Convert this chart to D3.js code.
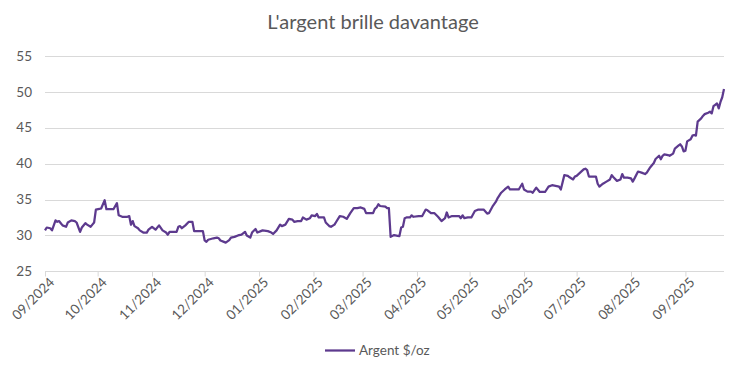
<!DOCTYPE html>
<html>
<head>
<meta charset="utf-8">
<script src="https://cdn.jsdelivr.net/npm/d3@7"></script>
<style>
  html, body { margin: 0; padding: 0; background: #fff; }
  svg { display: block; font-family: Lato, "Open Sans", sans-serif; }
</style>
</head>
<body>
<svg id="chart" width="750" height="375"></svg>
<script>
// ---- data ----
const title = "L'argent brille davantage";
const seriesName = "Argent $/oz";
const dates = [
"2024-09-01","2024-09-02","2024-09-04","2024-09-05","2024-09-07","2024-09-08","2024-09-09","2024-09-10","2024-09-11","2024-09-13",
"2024-09-14","2024-09-16","2024-09-18","2024-09-19","2024-09-21","2024-09-22","2024-09-24","2024-09-25","2024-09-27","2024-09-28",
"2024-09-29","2024-09-30","2024-10-02","2024-10-03","2024-10-05","2024-10-06","2024-10-08","2024-10-10","2024-10-12","2024-10-13",
"2024-10-15","2024-10-18","2024-10-19","2024-10-20","2024-10-21","2024-10-22","2024-10-24","2024-10-25","2024-10-27","2024-10-29",
"2024-10-30","2024-11-01","2024-11-03","2024-11-05","2024-11-07","2024-11-09","2024-11-10","2024-11-11","2024-11-13","2024-11-15",
"2024-11-16","2024-11-17","2024-11-18","2024-11-20","2024-11-22","2024-11-24","2024-11-25","2024-11-27","2024-11-30","2024-12-01",
"2024-12-02","2024-12-03","2024-12-06","2024-12-08","2024-12-09","2024-12-10","2024-12-12","2024-12-13","2024-12-15","2024-12-16",
"2024-12-18","2024-12-20","2024-12-22","2024-12-24","2024-12-25","2024-12-27","2024-12-28","2024-12-30","2024-12-31","2025-01-02",
"2025-01-03","2025-01-06","2025-01-08","2025-01-09","2025-01-11","2025-01-13","2025-01-14","2025-01-16","2025-01-18","2025-01-20",
"2025-01-21","2025-01-23","2025-01-25","2025-01-26","2025-01-28","2025-01-30","2025-01-31","2025-02-02","2025-02-03","2025-02-04",
"2025-02-06","2025-02-07","2025-02-08","2025-02-10","2025-02-11","2025-02-13","2025-02-14","2025-02-16","2025-02-18","2025-02-20",
"2025-02-22","2025-02-24","2025-02-26","2025-02-28","2025-03-02","2025-03-03","2025-03-06","2025-03-07","2025-03-08","2025-03-09",
"2025-03-10","2025-03-11","2025-03-14","2025-03-15","2025-03-16","2025-03-17","2025-03-19","2025-03-21","2025-03-22","2025-03-23",
"2025-03-24","2025-03-25","2025-03-26","2025-03-28","2025-03-29","2025-03-30","2025-04-02","2025-04-04","2025-04-06","2025-04-07",
"2025-04-09","2025-04-11","2025-04-13","2025-04-15","2025-04-17","2025-04-18","2025-04-19","2025-04-21","2025-04-23","2025-04-25",
"2025-04-26","2025-04-27","2025-04-28","2025-04-30","2025-05-02","2025-05-04","2025-05-06","2025-05-09","2025-05-11","2025-05-12",
"2025-05-14","2025-05-16","2025-05-17","2025-05-19","2025-05-21","2025-05-23","2025-05-24","2025-05-26","2025-05-29","2025-05-31",
"2025-06-01","2025-06-03","2025-06-05","2025-06-06","2025-06-07","2025-06-08","2025-06-10","2025-06-12","2025-06-13","2025-06-15",
"2025-06-17","2025-06-19","2025-06-21","2025-06-22","2025-06-24","2025-06-26","2025-06-27","2025-06-29","2025-06-30","2025-07-01",
"2025-07-03","2025-07-05","2025-07-06","2025-07-07","2025-07-08","2025-07-10","2025-07-12","2025-07-13","2025-07-14","2025-07-16",
"2025-07-18","2025-07-20","2025-07-21","2025-07-22","2025-07-24","2025-07-26","2025-07-27","2025-07-28","2025-07-30","2025-08-01",
"2025-08-02","2025-08-03","2025-08-05","2025-08-07","2025-08-09","2025-08-10","2025-08-12","2025-08-14","2025-08-15","2025-08-17",
"2025-08-18","2025-08-19","2025-08-20","2025-08-22","2025-08-23","2025-08-25","2025-08-26","2025-08-28","2025-08-29","2025-08-30",
"2025-08-31","2025-09-01","2025-09-02","2025-09-04","2025-09-05","2025-09-06","2025-09-07","2025-09-08","2025-09-10","2025-09-11",
"2025-09-12","2025-09-14","2025-09-15","2025-09-16","2025-09-17","2025-09-18","2025-09-19","2025-09-20","2025-09-21","2025-09-22",
"2025-09-23"
];
const prices = [
30.7,31.1,31.0,30.7,32.1,31.9,32.0,31.7,31.4,31.2,
31.8,32.1,32.0,31.8,30.5,31.1,31.7,31.5,31.2,31.5,
31.8,33.6,33.7,33.75,34.9,33.65,33.65,33.65,34.5,32.8,
32.6,32.6,32.7,31.5,32.0,31.3,31.0,30.7,30.4,30.4,
30.8,31.2,30.8,31.4,30.7,30.4,30.1,30.5,30.5,30.5,
31.2,31.3,31.0,31.4,31.9,31.9,30.6,30.6,30.6,29.3,
29.1,29.4,29.6,29.7,29.6,29.3,29.1,29.0,29.35,29.7,
29.8,30.0,30.1,30.5,30.0,29.7,30.4,30.9,30.4,30.6,
30.7,30.6,30.4,30.2,30.7,31.5,31.3,31.5,32.3,32.2,
31.9,32.0,32.0,32.5,32.2,32.4,32.8,32.7,33.0,32.5,
32.5,32.5,31.8,31.3,31.2,31.5,31.9,32.7,32.6,32.3,
33.1,33.8,33.8,33.9,33.7,33.1,33.1,33.1,33.7,33.9,
34.35,34.1,34.0,33.8,33.8,29.8,30.05,29.95,29.9,31.1,
31.2,32.4,32.5,32.5,32.8,32.6,32.7,32.7,33.6,33.5,
33.1,33.1,32.6,32.0,32.4,33.2,32.5,32.7,32.7,32.7,
32.4,32.8,32.4,32.5,32.5,33.4,33.6,33.6,33.05,33.1,
34.0,34.7,35.2,35.95,36.4,36.8,36.4,36.4,36.4,37.2,
36.4,36.1,36.1,35.95,36.3,36.65,36.05,36.05,36.05,36.8,
37.0,36.9,36.8,36.4,38.4,38.3,38.1,37.8,38.2,38.3,
38.75,39.2,39.3,39.1,38.2,38.2,38.2,37.2,36.8,37.2,
37.5,37.8,38.4,38.1,37.6,37.8,38.55,38.05,38.05,37.95,
37.5,37.95,38.9,38.75,38.55,38.75,39.5,40.1,40.65,41.1,
40.6,41.1,41.3,41.2,41.1,41.4,42.1,42.5,42.7,42.4,
41.7,41.8,43.1,43.4,43.9,44.0,43.9,45.85,46.3,46.65,
46.9,47.1,47.25,47.0,48.0,48.2,48.4,47.7,48.6,49.25,
50.4
];
const yTicks = [25, 30, 35, 40, 45, 50, 55];
const xTickMonths = ["2024-09-01","2024-10-01","2024-11-01","2024-12-01","2025-01-01","2025-02-01",
  "2025-03-01","2025-04-01","2025-05-01","2025-06-01","2025-07-01","2025-08-01","2025-09-01"];

// ---- drawing ----
const parse = d3.timeParse("%Y-%m-%d");
const data = dates.map((d, i) => ({ date: parse(d), value: prices[i] }));

const svg = d3.select("#chart");
const M = { left: 45, right: 724, top: 56, bottom: 271.3 };

const x = d3.scaleTime()
  .domain([parse("2024-09-01"), parse("2025-09-23")])
  .range([M.left, M.right]);
const y = d3.scaleLinear().domain([25, 55]).range([M.bottom, M.top]);

const textColor = "#595959";
const gridColor = "#d9d9d9";

// gridlines
svg.append("g")
  .selectAll("line")
  .data(yTicks)
  .join("line")
  .attr("x1", M.left).attr("x2", M.right)
  .attr("y1", d => Math.round(y(d)) + 0.5).attr("y2", d => Math.round(y(d)) + 0.5)
  .attr("stroke", gridColor).attr("stroke-width", 1);

// y labels
svg.append("g")
  .selectAll("text")
  .data(yTicks)
  .join("text")
  .attr("x", 32).attr("y", d => y(d))
  .attr("dy", "0.35em")
  .attr("text-anchor", "end")
  .attr("font-size", 13.5)
  .attr("fill", textColor)
  .text(d => d);

// x axis
const tickDates = xTickMonths.map(parse);
const xAxis = d3.axisBottom(x)
  .tickValues(tickDates)
  .tickSize(5)
  .tickFormat(d3.timeFormat("%m/%Y"));
const gx = svg.append("g")
  .attr("transform", `translate(0,${Math.round(M.bottom) + 0.5})`)
  .call(xAxis);
gx.select(".domain").attr("stroke", gridColor).attr("d", `M${M.left},0H${M.right}`);
gx.selectAll(".tick line").attr("stroke", gridColor);
gx.selectAll(".tick text")
  .attr("fill", textColor)
  .attr("font-size", 13.5)
  .attr("font-family", "Lato, sans-serif")
  .attr("text-anchor", "end")
  .attr("transform", "translate(4,6) rotate(-45)")
  .attr("x", 0).attr("y", 0).attr("dy", "0.6em");

// line
const line = d3.line().x(d => x(d.date)).y(d => y(d.value));
svg.append("path")
  .datum(data)
  .attr("fill", "none")
  .attr("stroke", "#5d3a8e")
  .attr("stroke-width", 2.25)
  .attr("stroke-linejoin", "round")
  .attr("d", line);

// title
svg.append("text")
  .attr("x", 373).attr("y", 29)
  .attr("text-anchor", "middle")
  .attr("font-size", 20)
  .attr("fill", textColor)
  .text(title);

// legend
svg.append("line")
  .attr("x1", 325).attr("x2", 355).attr("y1", 350.5).attr("y2", 350.5)
  .attr("stroke", "#5d3a8e").attr("stroke-width", 2.25);
svg.append("text")
  .attr("x", 359).attr("y", 350.5).attr("dy", "0.35em")
  .attr("font-size", 13.5)
  .attr("fill", textColor)
  .text(seriesName);
</script>
</body>
</html>
